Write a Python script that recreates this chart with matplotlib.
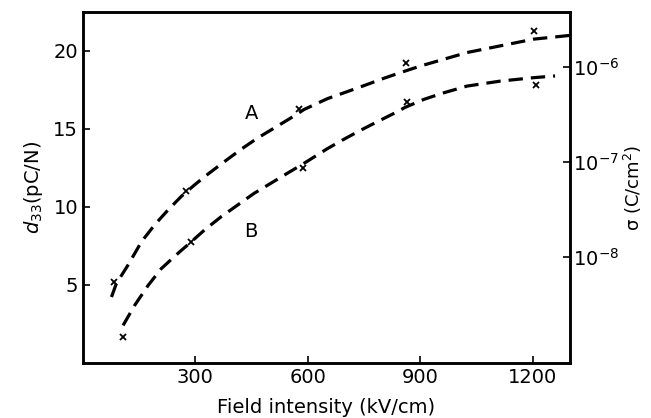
import numpy as np
import matplotlib
matplotlib.use('Agg')
import matplotlib.pyplot as plt

# measured points (x)
ax_pts = [83, 275, 577, 861, 1205]
ay_pts = [5.2, 11.05, 16.25, 19.25, 21.3]
bx_pts = [107, 289, 586, 864, 1210]
by_pts = [1.65, 7.73, 12.49, 16.72, 17.82]

# dashed curves
a_cx = [76, 89, 120, 156, 191, 227, 262, 298, 333, 377, 422, 466, 511, 555, 590,
        653, 706, 750, 803, 848, 901, 963, 1025, 1114, 1203, 1300]
a_cy = [4.23, 5.09, 6.27, 7.77, 8.85, 9.81, 10.67, 11.42, 12.1, 12.9, 13.7, 14.42, 15.07, 15.71, 16.25,
        16.95, 17.4, 17.78, 18.25, 18.62, 19.04, 19.47, 19.9, 20.33, 20.76, 21.0]
b_cx = [107, 138, 174, 209, 253, 289, 324, 369, 413, 457, 502, 546, 590,
        653, 697, 741, 786, 830, 861, 910, 963, 1025, 1114, 1203, 1260]
b_cy = [2.41, 3.7, 4.98, 6.05, 7.02, 7.77, 8.52, 9.38, 10.13, 10.88, 11.53, 12.17, 12.8,
        13.75, 14.35, 14.92, 15.47, 16.0, 16.4, 16.9, 17.32, 17.75, 18.07, 18.29, 18.4]

xticks = [300, 600, 900, 1200]
yticks = [5, 10, 15, 20]
sig_ticks = [1e-8, 1e-7, 1e-6]

plt.rcParams['font.family'] = 'DejaVu Sans'

fig = plt.figure(figsize=(6.51, 4.18), dpi=100)
ax = fig.add_axes([0.1275, 0.1316, 0.7481, 0.8397])

ax.plot(a_cx, a_cy, color='black', lw=2.3, ls=(0, (4.5, 2.5)), dash_capstyle='butt')
ax.plot(b_cx, b_cy, color='black', lw=2.3, ls=(0, (4.5, 2.5)), dash_capstyle='butt')
ax.plot(ax_pts, ay_pts, 'x', color='black', ms=5, mew=1.3)
ax.plot(bx_pts, by_pts, 'x', color='black', ms=5, mew=1.3)

ax.text(449, 16.0, 'A', fontsize=14, ha='center', va='center')
ax.text(449, 8.4, 'B', fontsize=14, ha='center', va='center')

ax.set_xlim(0, 1300)
ax.set_ylim(0, 22.5)
ax.set_xticks(xticks)
ax.set_yticks(yticks)
ax.tick_params(direction='in', length=5, width=1.2, labelsize=14)
for s in ax.spines.values():
    s.set_linewidth(1.8)
ax.set_xlabel('Field intensity (kV/cm)', fontsize=14, labelpad=8)
ax.set_ylabel('$d_{33}$(pC/N)', fontsize=14, labelpad=6)

ax2 = ax.twinx()
ax2.set_yscale('log')
ax2.set_ylim(10**-9.119, 10**-5.424)
ax2.set_yticks(sig_ticks)
ax2.set_yticklabels(['$10^{-8}$', '$10^{-7}$', '$10^{-6}$'])
ax2.yaxis.set_minor_locator(matplotlib.ticker.NullLocator())
ax2.tick_params(direction='in', length=5, width=1.2, labelsize=14, pad=2)
ax2.set_ylabel('σ (C/cm$^2$)', fontsize=13, labelpad=2)
for s in ax2.spines.values():
    s.set_linewidth(1.8)

fig.savefig('out.png', dpi=100)
